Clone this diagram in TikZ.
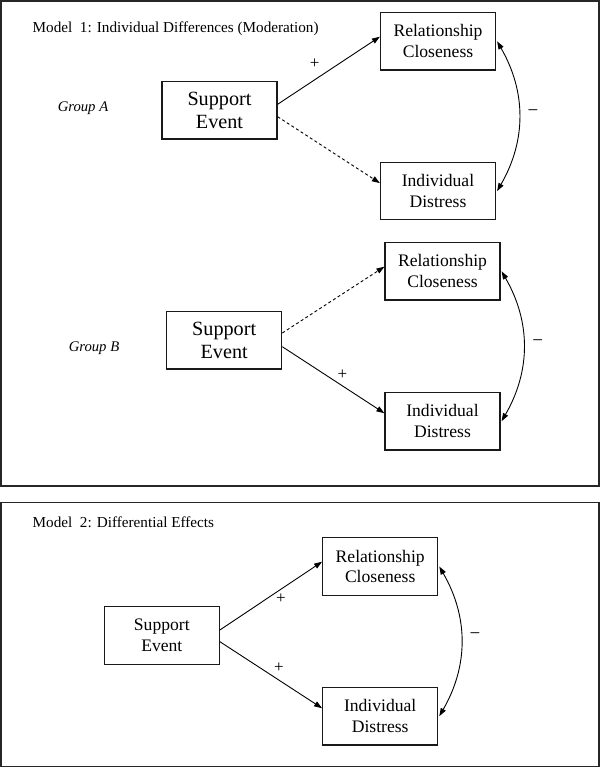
\documentclass[tikz,border=0pt]{standalone}
\usepackage{fontspec}
\setmainfont{Liberation Serif}
\usetikzlibrary{arrows.meta}
\begin{document}
\begin{tikzpicture}[x=1pt,y=-1pt,
  frame/.style={draw=black!85,line width=1.3pt},
  box/.style={draw=black!90,line width=1.2pt,minimum width=115pt,minimum height=57.5pt,align=center,inner sep=0pt,font=\fontsize{17.6}{20.7}\selectfont},
  bigbox/.style={box,font=\fontsize{20.2}{22.3}\selectfont},
  title/.style={anchor=west,inner sep=0pt,font=\fontsize{15.2}{18}\selectfont},
  grp/.style={inner sep=0pt,font=\fontsize{14.7}{17}\selectfont\itshape},
  sign/.style={inner sep=0pt,font=\fontsize{17}{20}\selectfont},
  msign/.style={inner sep=0pt,font=\fontsize{19}{22}\selectfont},
  arr/.style={line width=0.9pt,-{Triangle[length=8pt,width=5.5pt]}},
  darr/.style={arr,dash pattern=on 3pt off 2.5pt},
  dbl/.style={line width=0.9pt,{Triangle[length=8pt,width=5.5pt]}-{Triangle[length=8pt,width=5.5pt]}}
]
\useasboundingbox (0,0) rectangle (600,769);
\fill[white] (0,0) rectangle (600,769);
% frames
\draw[frame] (1,1) rectangle (599,486);
\draw[frame] (1,502.7) rectangle (599,766.7);
% Model 1 titles
\node[title] (t1) at (32.5,28.3) {Model\ \ 1: Individual Differences (Moderation)};
\node[grp] (ga) at (83,108.3) {Group A};
\node[grp] (gb) at (94,348.3) {Group B};
% Group A
\node[box] (rcA) at (438,41.3) {Relationship\\Closeness};
\node[bigbox] (seA) at (219.5,110.3) {Support\\Event};
\node[box] (idA) at (438,191.1) {Individual\\Distress};
\draw[arr] ([yshift=6pt]seA.east) -- ([yshift=4.6pt]rcA.west);
\draw[darr] ([yshift=-6.4pt]seA.east) -- ([yshift=8pt]idA.west);
\draw[dbl] ([xshift=1pt]rcA.east) to[bend left=30] ([xshift=1pt]idA.east);
\node[sign] (pA) at (314.6,63.3) {+};
\node[msign] (mA) at (533,113) {−};
% Group B
\node[box] (rcB) at (442.5,271.3) {Relationship\\Closeness};
\node[bigbox] (seB) at (224.2,340.3) {Support\\Event};
\node[box] (idB) at (442.5,421.2) {Individual\\Distress};
\draw[darr] ([yshift=7.3pt]seB.east) -- ([yshift=4.6pt]rcB.west);
\draw[arr] ([yshift=-6.4pt]seB.east) -- ([yshift=8pt]idB.west);
\draw[dbl] ([xshift=1pt]rcB.east) to[bend left=30] ([xshift=1pt]idB.east);
\node[sign] (pB) at (342.5,375) {+};
\node[msign] (mB) at (537.7,342.7) {−};
% Model 2
\node[title] (t2) at (32.5,522.3) {Model\ \ 2: Differential Effects};
\node[box] (rc2) at (380.2,566.5) {Relationship\\Closeness};
\node[box] (se2) at (161.8,635.5) {Support\\Event};
\node[box] (id2) at (380.2,716.2) {Individual\\Distress};
\draw[arr] ([yshift=5.5pt]se2.east) -- ([yshift=4.8pt]rc2.west);
\draw[arr] ([yshift=-6.2pt]se2.east) -- ([yshift=8pt]id2.west);
\draw[dbl] ([xshift=1pt]rc2.east) to[bend left=30] ([xshift=1pt]id2.east);
\node[sign] (p2a) at (281,599) {+};
\node[sign] (p2b) at (279,667.7) {+};
\node[msign] (m2) at (475,636) {−};
\end{tikzpicture}
\end{document}
